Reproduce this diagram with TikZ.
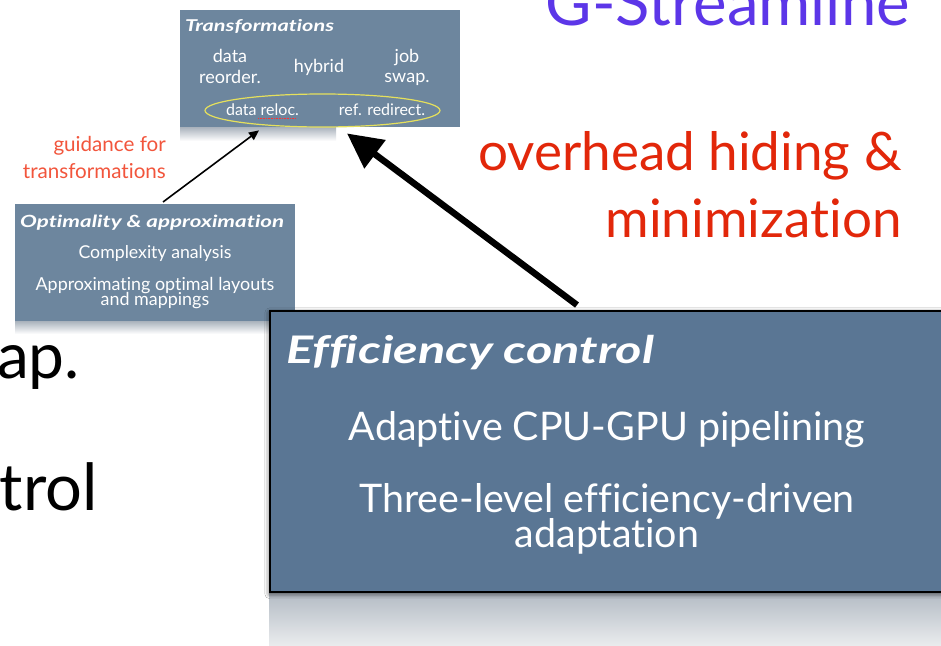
\documentclass[tikz,border=0pt]{standalone}
\usepackage{fontspec}
\setmainfont{Lato}[Ligatures=NoCommon]
\newfontfamily\headfont[FakeStretch=1.33,Ligatures=NoCommon]{Lato}
\usetikzlibrary{arrows.meta,shadows.blur,shapes.geometric}
\definecolor{slate}{HTML}{5A7694}
\definecolor{slatelight}{HTML}{6D869E}
\definecolor{hlred}{HTML}{E2270A}
\definecolor{guidered}{HTML}{F2553C}
\definecolor{gpurple}{HTML}{5C36E8}
\definecolor{ovalyellow}{HTML}{E5E05C}
\definecolor{reflgray}{HTML}{A9B2BC}
\definecolor{reflend}{HTML}{E9EBED}
\begin{document}
\begin{tikzpicture}[x=1pt,y=-1pt,
  panel/.style={fill=slatelight, inner sep=0pt, anchor=north west},
  bigpanel/.style={fill=slate, draw=black, line width=1.5pt, inner sep=0pt, anchor=north west,
    blur shadow={shadow xshift=0pt, shadow yshift=-2pt, shadow blur radius=5pt, shadow opacity=70}},
  ttl/.style={text=white, inner sep=0pt, anchor=base west,
    font=\headfont\bfseries\itshape\fontsize{#1}{#1}\selectfont},
  txt/.style={text=white, inner sep=0pt, anchor=base, font=\fontsize{#1}{#1}\selectfont},
  redtxt/.style={text=#1, inner sep=0pt, anchor=base east},
]
\useasboundingbox (0,0) rectangle (941,645);
\clip (0,0) rectangle (941,645);
\fill[white] (0,0) rectangle (941,645);

% floor reflections under the panels
\shade[top color=reflgray, bottom color=white] (180,127) rectangle (336,141);
\shade[top color=reflgray, bottom color=white] (15,321) rectangle (269,334);
\shade[top color=reflgray!90, bottom color=reflend] (269,591) rectangle (945,645);

% slide title and cut-off bullet text
\node[redtxt=gpurple, font=\fontsize{63.5}{63.5}\selectfont] (title) at (910,25) {G-Streamline};
\node[redtxt=black, font=\fontsize{64}{64}\selectfont] (bl1) at (80,378) {ap.};
\node[redtxt=black, font=\fontsize{65}{65}\selectfont] (bl2) at (98,510) {trol};

% Transformations panel
\node[panel, minimum width=280pt, minimum height=117pt] (trbox) at (180,10) {};
\node[ttl=16.3] (trtitle) at (185,31) {Transformations};
\node[txt=18] (dr1) at (230,62) {data};
\node[txt=18] (dr2) at (230,83) {reorder.};
\node[txt=18] (hyb) at (319,72) {hybrid};
\node[txt=18] (js1) at (407,62) {job};
\node[txt=18] (js2) at (407,82) {swap.};
\node[draw=ovalyellow, line width=1.2pt, ellipse, inner sep=0pt,
      minimum width=235pt, minimum height=33pt] (oval) at (322.5,110.5) {};
\node[txt=16] (reloc) at (262.5,115) {data reloc.};
\node[txt=16] (redir) at (382,115) {ref. redirect.};
\draw[red!80, line width=0.6pt, densely dotted] (258,118) -- (296,118);

% Optimality panel
\node[panel, minimum width=280pt, minimum height=117pt] (optbox) at (15,204) {};
\node[ttl=16.8] (opttitle) at (20,227) {Optimality \& approximation};
\node[txt=17.7] (cplx) at (155,258) {Complexity analysis};
\node[txt=17.9] (appr1) at (155,290) {Approximating optimal layouts};
\node[txt=17.9] (appr2) at (155,305) {and mappings};

% guidance label
\node[redtxt=guidered, font=\fontsize{20.6}{20.6}\selectfont] (gd1) at (166,151) {guidance for};
\node[redtxt=guidered, font=\fontsize{20.6}{20.6}\selectfont] (gd2) at (166,178) {transformations};

% Efficiency control panel
\node[bigpanel, minimum width=690pt, minimum height=281pt] (effbox) at (269,310) {};
\node[ttl=38] (efftitle) at (286,363) {Efficiency control};
\node[txt=39.4] (pipe) at (607,440) {Adaptive CPU-GPU pipelining};
\node[txt=39.4] (three1) at (607,512) {Three-level efficiency-driven};
\node[txt=39.4] (three2) at (607,547) {adaptation};

% overhead label
\node[redtxt=hlred, font=\fontsize{53}{53}\selectfont] (oh1) at (902,170) {overhead hiding \&};
\node[redtxt=hlred, font=\fontsize{53}{53}\selectfont] (oh2) at (902,237) {minimization};

% connectors
\coordinate (gtail) at ([shift={(148,-2)}]optbox.north west);
\coordinate (ghead) at ([shift={(79,3)}]trbox.south west);
\draw[line width=1.6pt, -{Triangle[length=10pt,width=9pt]}] (gtail) -- (ghead);
\coordinate (otail) at ([shift={(308,-5)}]effbox.north west);
\coordinate (ohead) at ([shift={(167,6)}]trbox.south west);
\draw[line width=6.5pt, -{Triangle[length=35pt,width=34pt]}] (otail) -- (ohead);
\end{tikzpicture}
\end{document}
